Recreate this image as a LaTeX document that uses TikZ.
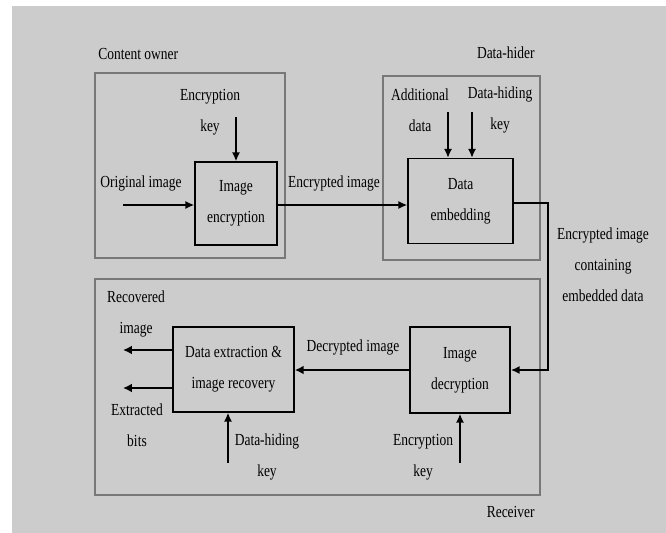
\documentclass[tikz,border=0pt]{standalone}
\usepackage{fontspec}
\setmainfont{Liberation Serif}[FakeStretch=0.8]
\usepackage{xcolor}
\usepackage{tikz}
\usetikzlibrary{arrows.meta,calc,positioning}

\definecolor{bggray}{RGB}{204,204,204}
\definecolor{framegray}{RGB}{120,120,120}

\tikzset{
    lbl/.style={font=\fontsize{12}{22}\selectfont, align=center, inner sep=0pt},
    block/.style={draw=black, line width=1.1pt, lbl},
    party/.style={draw=framegray, line width=1.5pt},
    flow/.style={-{Latex[length=2.2mm,width=2mm]}, line width=1pt},
    fatflow/.style={-{Latex[length=2.2mm,width=2.2mm]}, line width=1.8pt}
}

\begin{document}
\begin{tikzpicture}[x=0.025cm, y=-0.025cm]
        % canvas
        \fill[white] (0,0) rectangle (666,533);
        \fill[bggray] (12,6) rectangle (666,533);
        \useasboundingbox (0,0) rectangle (666,533);

        % Parties
        \draw[party] (95,73) rectangle (285,258);
        \draw[party] (383,76) rectangle (540,260);
        \draw[party] (95,279) rectangle (540,495);

        \node[lbl, anchor=west] (ownerlbl) at (98,54) {Content owner};
        \node[lbl, anchor=east] (hiderlbl) at (535,53) {Data-hider};
        \node[lbl, anchor=east] (recvlbl) at (535,512) {Receiver};

        % Processing blocks
        \node[block, minimum width=2.05cm, minimum height=2.075cm]
            (enc) at (236,203.5) {Image\\encryption};
        \node[block, minimum width=2.625cm, minimum height=2.125cm]
            (emb) at (460.5,201) {Data\\embedding};
        \node[block, minimum width=3.025cm, minimum height=2.125cm]
            (ext) at (233.5,369.5) {Data extraction \&\\image recovery};
        \node[block, minimum width=2.5cm, minimum height=2.15cm]
            (dec) at (460,370) {Image\\decryption};

        % Inputs and outputs
        \node[lbl] (enckey) at (210,112) {Encryption\\key};
        \node[lbl] (orig) at (141,183) {Original image};
        \node[lbl] (encimg) at (334,183) {Encrypted image};
        \node[lbl] (adddata) at (420,110) {Additional\\data};
        \node[lbl] (hidekey) at (500,110) {Data-hiding\\key};
        \node[lbl] (marked) at (603,265) {Encrypted image\\containing\\embedded data};
        \node[lbl] (decimg) at (353,347) {Decrypted image};
        \node[lbl] (recimg) at (136,314) {Recovered\\image};
        \node[lbl] (bits) at (137,425) {Extracted\\bits};
        \node[lbl] (rxhidekey) at (267,457) {Data-hiding\\key};
        \node[lbl] (rxenckey) at (423,457) {Encryption\\key};

        % free ends of the connectors
        \coordinate (enckeyin) at (236,117);
        \coordinate (origin) at (123,205);
        \coordinate (addin) at (448,112);
        \coordinate (hidein) at (472,112);
        \coordinate (recout) at (123,350);
        \coordinate (bitsout) at (123,388);
        \coordinate (rxhidein) at (228,463);
        \coordinate (rxencin) at (460,463);

        % Connectors
        \draw[flow] (enckeyin) -- (enc.north);
        \draw[flow] (origin) -- (origin -| enc.west);
        \draw[flow] (enc.east |- origin) -- (origin -| emb.west);
        \draw[flow] (addin) -- (addin |- emb.north);
        \draw[flow] (hidein) -- (hidein |- emb.north);
        \draw[flow, line width=1.6pt] (emb.east |- 0,203) -- (548,203) |- (dec.east);
        \draw[fatflow] (dec.west) -- (ext.east |- dec.west);
        \draw[fatflow] (recout -| ext.west) -- (recout);
        \draw[fatflow] (bitsout -| ext.west) -- (bitsout);
        \draw[flow] (rxhidein) -- (rxhidein |- ext.south);
        \draw[flow] (rxencin) -- (dec.south);

\end{tikzpicture}
\end{document}
